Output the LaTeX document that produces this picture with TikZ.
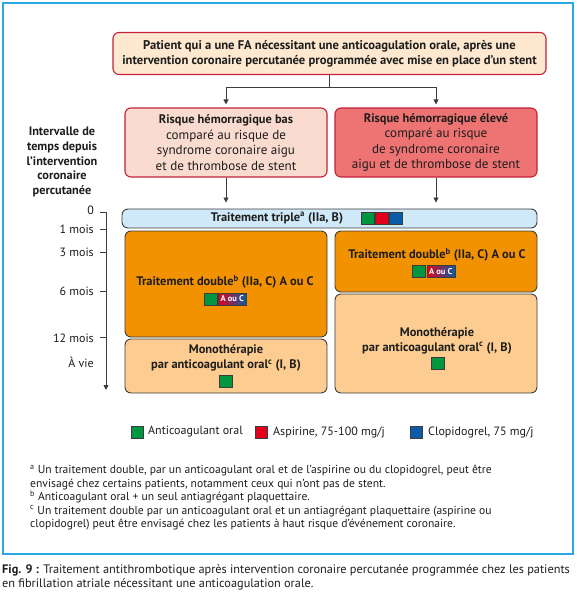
\documentclass[tikz,border=0pt]{standalone}
\usepackage{fontspec}
\setmainfont{PT Sans}
\usetikzlibrary{arrows.meta,positioning}
\definecolor{cadre}{HTML}{29A9E0}
\definecolor{bordrouge}{HTML}{C4203A}
\definecolor{peche}{HTML}{FEE8D0}
\definecolor{rosepale}{HTML}{FADBD0}
\definecolor{saumon}{HTML}{EE7474}
\definecolor{bleuclair}{HTML}{CFE9F9}
\definecolor{orangefonce}{HTML}{F39200}
\definecolor{orangeclair}{HTML}{FDCC90}
\definecolor{grisbord}{HTML}{3C3C3B}
\definecolor{vertAC}{HTML}{00963F}
\definecolor{rougeA}{HTML}{E2001A}
\definecolor{bleuC}{HTML}{0A5CA8}
\definecolor{texte}{HTML}{1D1D1B}
\begin{document}
\begin{tikzpicture}[x=1pt,y=-1pt,
						every node/.style={inner sep=0pt,text=texte,
						  font=\fontsize{12}{14}\selectfont}]
						\tikzstyle{boite}=[draw=bordrouge,line width=1.1pt,rounded corners=6pt];
						\tikzstyle{phase}=[draw=grisbord,line width=0.9pt,rounded corners=6pt];
						\tikzstyle{fleche}=[line width=0.8pt,grisbord,-{Triangle[length=5pt,width=5pt]}];
						\tikzstyle{carre}=[draw=grisbord,line width=0.3pt,minimum width=13pt,minimum height=12pt];
						\tikzstyle{badge}=[draw=grisbord,line width=0.3pt,left color=rougeA,right color=bleuC,
						  text=white,font=\bfseries\fontsize{8.5}{9}\selectfont,minimum width=28pt,minimum height=12pt];
						\tikzstyle{temps}=[anchor=east];
						\tikzstyle{titre}=[font=\bfseries\fontsize{12.4}{15}\selectfont];
						\tikzstyle{note}=[anchor=base west,font=\fontsize{11.6}{13}\selectfont];
						\useasboundingbox (0,0) rectangle (576,600);
						\draw[cadre,line width=2pt] (3,3) rectangle (573,554);
						% boites du haut
						\node[boite,fill=peche,minimum width=433pt,minimum height=42pt,align=center,
						  font=\bfseries\fontsize{12.6}{15}\selectfont] (patient) at (329.5,53.5)
						  {Patient qui a une FA nécessitant une anticoagulation orale, après une\\
						   intervention coronaire percutanée programmée avec mise en place d’un stent};
						\node[boite,fill=rosepale,minimum width=202pt,minimum height=69pt,align=center,
						  font=\fontsize{13.1}{15.6}\selectfont] (bas) at (226,142.5)
						  {\textbf{\fontsize{12.4}{15.6}\selectfont Risque hémorragique bas}\\comparé au risque de\\syndrome coronaire aigu\\et de thrombose de stent};
						\node[boite,fill=saumon,minimum width=202pt,minimum height=69pt,align=center,
						  font=\fontsize{13.1}{15.6}\selectfont] (eleve) at (436,142.5)
						  {\textbf{\fontsize{12.4}{15.6}\selectfont Risque hémorragique élevé}\\comparé au risque\\de syndrome coronaire\\aigu et de thrombose de stent};
						\draw[line width=0.8pt,grisbord] (patient.south) -- ++(0,12) coordinate (split);
						\draw[fleche,shorten >=3pt] (split) -| (bas.north);
						\draw[fleche,shorten >=3pt] (split) -| (eleve.north);
						% intervalle de temps
						\node[align=center,font=\bfseries\fontsize{12.3}{14.6}\selectfont] (intervalle) at (62,162)
						  {Intervalle de\\temps depuis\\l’intervention\\coronaire\\percutanée};
						\coordinate (t0) at (106,212);
						\coordinate (t1) at (106,229);
						\coordinate (t3) at (106,252);
						\coordinate (t6) at (106,291);
						\coordinate (t12) at (106,337);
						\coordinate (tfin) at (106,390);
						\draw[fleche] (100,212) -- (t0) -- (tfin);
						\draw[line width=0.8pt,grisbord] (t1) -- ++(-6,0);
						\draw[line width=0.8pt,grisbord] (t3) -- ++(-6,0);
						\draw[line width=0.8pt,grisbord] (t6) -- ++(-6,0);
						\draw[line width=0.8pt,grisbord] (t12) -- ++(-6,0);
						\node[temps] (l0) at (94,210) {0};
						\node[temps] (l1) at (94,229) {1 mois};
						\node[temps] (l3) at (94,252) {3 mois};
						\node[temps] (l6) at (94,291) {6 mois};
						\node[temps] (l12) at (94,338) {12 mois};
						\node[temps] (lvie) at (94,362) {À vie};
						% phases
						\node[phase,fill=bleuclair,minimum width=415pt,minimum height=19pt] (triple) at (329.5,218.5) {};
						\node[phase,fill=orangefonce,minimum width=202pt,minimum height=106pt] (doubleG) at (226,284) {};
						\node[phase,fill=orangefonce,minimum width=202pt,minimum height=61pt] (doubleD) at (436,261.5) {};
						\node[phase,fill=orangeclair,minimum width=202pt,minimum height=54pt] (monoG) at (226,366) {};
						\node[phase,fill=orangeclair,minimum width=202pt,minimum height=99pt] (monoD) at (436,343.5) {};
						\draw[fleche,shorten >=6pt] (bas.south) -- (bas.south |- triple.north);
						\draw[fleche,shorten >=6pt] (eleve.south) -- (eleve.south |- triple.north);
						\node[titre] (tripleT) at (277,218) {Traitement triple\textsuperscript{a} (IIa, B)};
						\node[carre,fill=vertAC] (tripleV) at (367.5,218) {};
						\node[carre,fill=rougeA,right=1pt of tripleV] (tripleR) {};
						\node[carre,fill=bleuC,right=1pt of tripleR] (tripleB) {};
						\node[titre] (doubleGT) at (225,282) {Traitement double\textsuperscript{b} (IIa, C) A ou C};
						\node[carre,fill=vertAC] (doubleGV) at (210.5,299) {};
						\node[badge,right=1pt of doubleGV] (doubleGA) {A ou C};
						\node[titre] (doubleDT) at (437,255) {Traitement double\textsuperscript{b} (IIa, C) A ou C};
						\node[carre,fill=vertAC] (doubleDV) at (419,271.5) {};
						\node[badge,right=1pt of doubleDV] (doubleDA) {A ou C};
						\node[titre,align=center] (monoGT) at (226,358) {Monothérapie\\par anticoagulant oral\textsuperscript{c} (I, B)};
						\node[carre,fill=vertAC] (monoGV) at (226,381) {};
						\node[titre,align=center] (monoDT) at (437,340.5) {Monothérapie\\par anticoagulant oral\textsuperscript{c} (I, B)};
						\node[carre,fill=vertAC] (monoDV) at (437.5,363) {};
						% legende
						\node[carre,fill=vertAC,minimum width=12pt] (legV) at (137,432) {};
						\node[anchor=west] (legVT) at (148,432) {Anticoagulant oral};
						\node[carre,fill=rougeA,minimum width=12pt] (legR) at (261,432) {};
						\node[anchor=west] (legRT) at (273,432) {Aspirine, 75-100 mg/j};
						\node[carre,fill=bleuC,minimum width=12pt] (legB) at (416,432) {};
						\node[anchor=west] (legBT) at (428,432) {Clopidogrel, 75 mg/j};
						% notes
						\node[note] (fn1) at (30,473.5) {\textsuperscript{a} Un traitement double, par un anticoagulant oral et de l’aspirine ou du clopidogrel, peut être};
						\node[note] (fn2) at (30,487) {envisagé chez certains patients, notamment ceux qui n’ont pas de stent.};
						\node[note] (fn3) at (30,500.5) {\textsuperscript{b} Anticoagulant oral + un seul antiagrégant plaquettaire.};
						\node[note] (fn4) at (30,514) {\textsuperscript{c} Un traitement double par un anticoagulant oral et un antiagrégant plaquettaire (aspirine ou};
						\node[note] (fn5) at (30,527.5) {clopidogrel) peut être envisagé chez les patients à haut risque d’événement coronaire.};
						% legende de la figure
						\node[anchor=base west,font=\fontsize{12.3}{14}\selectfont] (fig1) at (2,573) {\textbf{Fig. 9 :} Traitement antithrombotique après intervention coronaire percutanée programmée chez les patients};
						\node[anchor=base west,font=\fontsize{12.3}{14}\selectfont] (fig2) at (2,587) {en fibrillation atriale nécessitant une anticoagulation orale.};
					\end{tikzpicture}
\end{document}
